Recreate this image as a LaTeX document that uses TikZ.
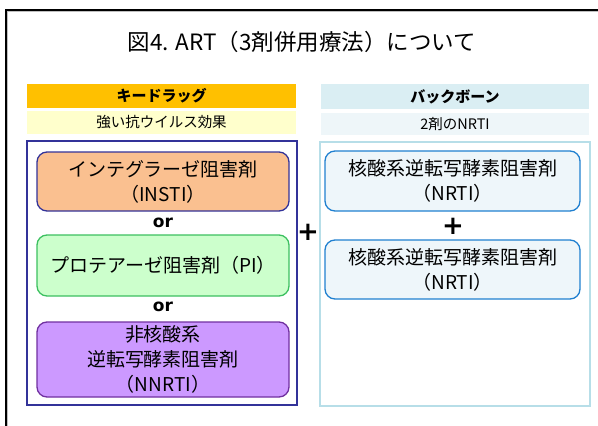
\documentclass[tikz,border=0pt]{standalone}
\usepackage{fontspec}
\setmainfont{Noto Sans CJK JP}
\newfontfamily\heavyfont{DejaVu Sans}
\usepackage{tikz}
\usetikzlibrary{positioning}

\definecolor{keyorange}{HTML}{FFC000}
\definecolor{keyyellow}{HTML}{FFFFCC}
\definecolor{bbhead}{HTML}{DAEEF3}
\definecolor{bbsub}{HTML}{EEF6F9}
\definecolor{navyline}{HTML}{333399}
\definecolor{instifill}{HTML}{FAC090}
\definecolor{pifill}{HTML}{CCFFCC}
\definecolor{piline}{HTML}{3CC060}
\definecolor{nnrtifill}{HTML}{CC99FF}
\definecolor{nnrtiline}{HTML}{7030A0}
\definecolor{nrtifill}{HTML}{EEF6FA}
\definecolor{nrtiline}{HTML}{2080D0}
\definecolor{bbframe}{HTML}{B7DEE8}

\begin{document}
\begin{tikzpicture}[
        x=1pt, y=-1pt,
        header/.style={rectangle, minimum width=269pt, minimum height=24pt, inner sep=0, font=\fontsize{15}{17}\selectfont\bfseries},
        subheader/.style={rectangle, minimum width=269pt, minimum height=23pt, inner sep=0, font=\fontsize{14.5}{16}\selectfont},
        frame/.style={rectangle, minimum width=270pt, minimum height=264pt, inner sep=0},
        drug/.style={rectangle, rounded corners=10pt, line width=1.3pt, minimum width=252pt, align=center, inner sep=0, font=\fontsize{19}{25}\selectfont},
        nrti/.style={drug, draw=nrtiline, fill=nrtifill, minimum width=255pt, minimum height=60pt},
        connword/.style={font=\heavyfont\bfseries\fontsize{17}{18}\selectfont, inner sep=0},
        plussign/.style={font=\heavyfont\bfseries\fontsize{26}{26}\selectfont, inner sep=0}
    ]

        % 外枠と図の範囲
        \useasboundingbox (0,0) rectangle (598,426);
        \draw[gray!50, line width=2pt] (7,11) rectangle (640,460);
        \draw[black, line width=1.2pt] (6,10) rectangle (640,460);

        % タイトル
        \node[font=\fontsize{22.5}{26}\selectfont] (title) at (302,42) {図4. ART（3剤併用療法）について};

        % キードラッグ側
        \node[header, fill=keyorange] (keyhead) at (161.5,96) {キードラッグ};
        \node[subheader, fill=keyyellow] (keysub) at (161.5,122.5) {強い抗ウイルス効果};
        \node[frame, draw=navyline, line width=1.3pt] (keyframe) at (162,273) {};

        \node[drug, draw=navyline, fill=instifill, minimum height=59pt] (insti) at (163,181.5) {インテグラーゼ阻害剤\\（INSTI）};
        \node[connword] (or1) at (163,223) {or};
        \node[drug, draw=piline, fill=pifill, minimum height=61pt] (pi) at (163,265.5) {プロテアーゼ阻害剤（PI）};
        \node[connword] (or2) at (163,307) {or};
        \node[drug, draw=nnrtiline, fill=nnrtifill, minimum height=75pt] (nnrti) at (163,359.5) {非核酸系\\逆転写酵素阻害剤\\（NNRTI）};

        % 組み合わせ
        \node[plussign] (plusmain) at (308,232) {+};

        % バックボーン側
        \node[header, fill=bbhead, minimum width=268pt, minimum height=25pt] (bbhead) at (455,96.5) {バックボーン};
        \node[subheader, fill=bbsub, minimum width=268pt, minimum height=22pt] (bbsub) at (455,124) {2剤のNRTI};
        \node[frame, draw=bbframe, line width=1.6pt] (bbframe) at (455,274) {};

        \node[nrti] (nrti1) at (452.5,181) {核酸系逆転写酵素阻害剤\\（NRTI）};
        \node[plussign] (plusbb) at (453,226) {+};
        \node[nrti, minimum height=59pt] (nrti2) at (452.5,269.5) {核酸系逆転写酵素阻害剤\\（NRTI）};

    \end{tikzpicture}
\end{document}
